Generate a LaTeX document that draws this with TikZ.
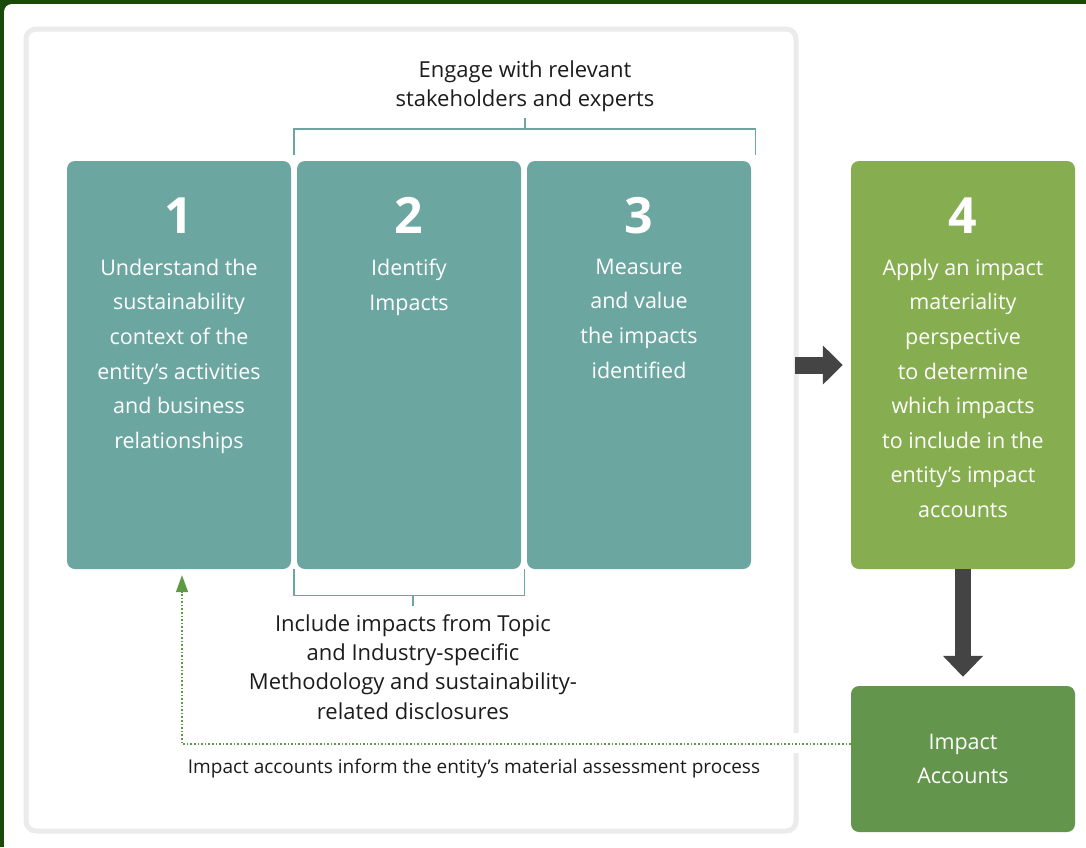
\documentclass[tikz,border=0pt]{standalone}
\usepackage{fontspec}
\setmainfont{Open Sans}
\usetikzlibrary{arrows.meta,positioning}

\definecolor{frameGreen}{HTML}{1A4A08}
\definecolor{cardLine}{HTML}{EBEBEB}
\definecolor{stepTeal}{HTML}{6BA6A1}
\definecolor{stepGreen}{HTML}{86AE50}
\definecolor{accGreen}{HTML}{64954D}
\definecolor{arrowGrey}{HTML}{444444}
\definecolor{dotGreen}{HTML}{5E9A45}
\definecolor{inkText}{HTML}{1C1C1C}

\begin{document}
\begin{tikzpicture}[x=1pt, y=-1pt,
    stepbox/.style = {fill=stepTeal, rounded corners=8pt, minimum width=224pt, minimum height=408pt, inner sep=0pt},
    accbox/.style = {fill=accGreen, rounded corners=8pt, minimum width=224pt, minimum height=146pt, inner sep=0pt,
                     text=white, align=center, font=\fontsize{21.5}{34}\selectfont},
    num/.style = {text=white, font=\fontsize{50}{50}\selectfont\bfseries, inner sep=0pt},
    boxtext/.style = {text=white, align=center, anchor=north, inner sep=0pt, font=\fontsize{21.5}{34.6}\selectfont},
    note/.style = {text=inkText, align=center, inner sep=0pt, font=\fontsize{22}{29.3}\selectfont},
    bracket/.style = {draw=stepTeal, line width=1.4pt},
    bigarrow/.style = {draw=arrowGrey, line width=17pt},
    feedback/.style = {draw=dotGreen, line width=1.6pt, dotted, -{Triangle[width=12pt,length=17pt]}}]

    \useasboundingbox (0,0) rectangle (1086,847);
    \fill[frameGreen] (0,0) rectangle (1086,847);
    \fill[white, rounded corners=8pt] (4,4) rectangle (1110,870);
    \draw[cardLine, line width=5pt, rounded corners=10pt] (26,29) rectangle (796,831);

    % steps
    \node [stepbox] (s1) at (179,365) {};
    \node [stepbox] (s2) at (409,365) {};
    \node [stepbox] (s3) at (639,365) {};
    \node [stepbox, fill=stepGreen] (s4) at (963,365) {};
    \node [accbox] (ia) at (963,759) {Impact\\Accounts};

    \node [num] (n1) at ([yshift=-55pt]s1.north) {1};
    \node [num] (n2) at ([yshift=-55pt]s2.north) {2};
    \node [num] (n3) at ([yshift=-55pt]s3.north) {3};
    \node [num] (n4) at ([yshift=-55pt]s4.north) {4};

    \node [boxtext] (t1) at ([yshift=-98pt]s1.north) {Understand the\\sustainability\\context of the\\entity’s activities\\and business\\relationships};
    \node [boxtext] (t2) at ([yshift=-98pt]s2.north) {Identify\\Impacts};
    \node [boxtext] (t3) at ([yshift=-98pt]s3.north) {Measure\\and value\\the impacts\\identified};
    \node [boxtext] (t4) at ([yshift=-98pt]s4.north) {Apply an impact\\materiality\\perspective\\to determine\\which impacts\\to include in the\\entity’s impact\\accounts};

    % brackets and notes
    \node [note] (engage) at (525,86.5) {Engage with relevant\\stakeholders and experts};
    \draw[bracket] ([shift={(-3,-6)}]s2.north west) -- ++(0,-26) -| ([shift={(4,-6)}]s3.north east);
    \coordinate (toptick) at (525,129);
    \draw[bracket] (toptick) -- ++(0,-11);

    \node [note] (include) at (413,667) {Include impacts from Topic\\and Industry-specific\\Methodology and sustainability-\\related disclosures};
    \draw[bracket] ([xshift=-3pt]s2.south west) -- ++(0,26) -| ([xshift=3pt]s2.south east);
    \coordinate (bottick) at (413,595);
    \draw[bracket] (bottick) -- ++(0,11);

    % arrows
    \draw[bigarrow, shorten <=44pt, shorten >=8pt, -{Triangle[width=38pt,length=20pt]}] (s3) -- (s4);
    \draw[bigarrow, line width=16pt, shorten >=9pt, -{Triangle[width=39pt,length=21pt]}] (s4) -- (ia);

    \fill[white] (792,733) rectangle (800,753);
    \draw[feedback] ([yshift=15pt]ia.west) -| ([xshift=3pt,yshift=-6pt]s1.south);
    \node [note, font=\fontsize{19}{22}\selectfont] (caption) at (474,768) {Impact accounts inform the entity’s material assessment process};

\end{tikzpicture}
\end{document}
